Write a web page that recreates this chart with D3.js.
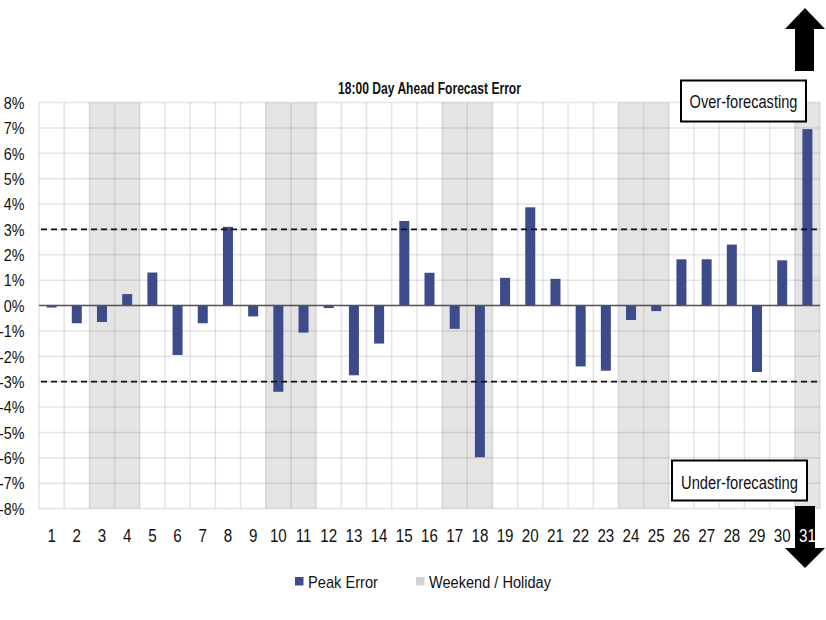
<!DOCTYPE html>
<html>
<head>
<meta charset="utf-8">
<script src="https://cdn.jsdelivr.net/npm/d3@7"></script>
<style>
  body { margin: 0; background: #fff; }
  text { font-family: "Liberation Sans", Arial, sans-serif; }
</style>
</head>
<body>
<svg id="chart" width="826" height="620"></svg>
<script>
const days = d3.range(1, 32).map(String);
const peakError = [-0.08, -0.7, -0.65, 0.45, 1.3, -1.95, -0.7, 3.1, -0.43, -3.4, -1.07,
  -0.1, -2.75, -1.5, 3.33, 1.29, -0.92, -5.98, 1.09, 3.87, 1.05, -2.4, -2.57, -0.57,
  -0.22, 1.82, 1.82, 2.4, -2.62, 1.78, 6.95];
const weekendDays = ["3", "4", "10", "11", "17", "18", "24", "25", "31"];
const yTicks = d3.range(-8, 9);
const thresholds = [3, -3];
const title = "18:00 Day Ahead Forecast Error";
const legendItems = [
  { label: "Peak Error", color: "#3d4b8b" },
  { label: "Weekend / Holiday", color: "#d3d3d3" }
];

const svg = d3.select("#chart");
const pL = 39, pR = 820, pT = 102.5, pB = 508.5;

const x = d3.scaleBand().domain(days).range([pL, pR]).paddingInner(0).paddingOuter(0);
const y = d3.scaleLinear().domain([-8, 8]).range([pB, pT]);

// helper: narrow text (condensed look) fitted to a target width
function fitText(cx, baseline, str, size, weight, targetW, anchor) {
  const g = svg.append("g");
  const t = g.append("text").attr("x", 0).attr("y", 0)
    .attr("font-size", size).attr("font-weight", weight).attr("fill", "#111")
    .attr("text-anchor", anchor).text(str);
  const w = t.node().getComputedTextLength();
  const s = targetW / w;
  g.attr("transform", `translate(${cx},${baseline}) scale(${s},1)`);
  return g;
}

// weekend shading
svg.append("g").selectAll("rect").data(weekendDays).join("rect")
  .attr("x", d => x(d)).attr("y", pT)
  .attr("width", x.bandwidth()).attr("height", pB - pT)
  .attr("fill", "#e4e4e4");

// grid
const grid = svg.append("g");
grid.selectAll("line.h").data(yTicks).join("line")
  .attr("x1", pL).attr("x2", pR)
  .attr("y1", d => y(d)).attr("y2", d => y(d))
  .attr("stroke", "#000").attr("stroke-opacity", 0.1).attr("stroke-width", 1.5);
grid.selectAll("line.v").data(days.concat(["end"])).join("line")
  .attr("x1", d => d === "end" ? pR : x(d))
  .attr("x2", d => d === "end" ? pR : x(d))
  .attr("y1", pT).attr("y2", pB)
  .attr("stroke", "#000").attr("stroke-opacity", 0.1).attr("stroke-width", 1.5);

// title
fitText(429.5, 94, title, 16.5, "bold", 183, "middle");

// y axis labels
const ySx = 0.88;
const yAxis = d3.axisLeft(y).tickValues(yTicks).tickSize(0).tickPadding(0)
  .tickFormat(d => d + "%");
const yg = svg.append("g").attr("transform", `translate(${pL},0)`).call(yAxis);
yg.select(".domain").remove();
yg.selectAll("text").attr("font-size", 16.3).attr("fill", "#111")
  .attr("x", -14.5 / ySx).attr("dy", "0.36em")
  .attr("transform", `scale(${ySx},1)`)
  .style("font-family", '"Liberation Sans", Arial, sans-serif');

// bars
const barW = 10;
svg.append("g").selectAll("rect").data(peakError).join("rect")
  .attr("x", (d, i) => x(days[i]) + x.bandwidth() / 2 - barW / 2)
  .attr("width", barW)
  .attr("y", d => y(Math.max(0, d)))
  .attr("height", d => Math.abs(y(d) - y(0)))
  .attr("fill", "#3d4b8b");

// zero line
svg.append("line").attr("x1", pL).attr("x2", pR)
  .attr("y1", y(0)).attr("y2", y(0)).attr("stroke", "#555").attr("stroke-width", 1.5);

// threshold dashed lines
svg.append("g").selectAll("line").data(thresholds).join("line")
  .attr("x1", pL + 2).attr("x2", pR - 2)
  .attr("y1", d => y(d)).attr("y2", d => y(d))
  .attr("stroke", "#111").attr("stroke-width", 1.8).attr("stroke-dasharray", "6,4");

// arrows
const up = [[805, 8], [825, 29], [814, 29], [814, 71], [795, 71], [795, 29], [785, 29]];
svg.append("polygon").attr("points", up.map(p => p.join(",")).join(" ")).attr("fill", "#000");
const down = [[795, 506], [815, 506], [815, 548], [825, 548], [805, 568], [785, 548], [795, 548]];
svg.append("polygon").attr("points", down.map(p => p.join(",")).join(" ")).attr("fill", "#000");

// x axis labels
const xSx = 0.82;
const xAxis = d3.axisBottom(x).tickSize(0).tickPadding(0);
const xg = svg.append("g").attr("transform", `translate(0,541.5)`).call(xAxis);
xg.select(".domain").remove();
xg.selectAll("text").attr("font-size", 18.5).attr("y", 0).attr("dy", 0)
  .attr("transform", `scale(${xSx},1)`)
  .attr("fill", d => d === "31" ? "#fff" : "#111")
  .style("font-family", '"Liberation Sans", Arial, sans-serif');

// annotation boxes
function box(x0, y0, w, h, label, tw, baseline) {
  svg.append("rect").attr("x", x0).attr("y", y0).attr("width", w).attr("height", h)
    .attr("fill", "#fff").attr("stroke", "#000").attr("stroke-width", 2);
  fitText(x0 + w / 2, baseline, label, 18.5, "normal", tw, "middle");
}
box(681, 80.5, 125, 41, "Over-forecasting", 108, 108);
box(672, 460.5, 135, 40, "Under-forecasting", 117, 488.5);

// legend
const legendX = [295, 416];
const legendW = [70, 122];
legendItems.forEach((it, i) => {
  svg.append("rect").attr("x", legendX[i]).attr("y", 577).attr("width", 8.5).attr("height", 8.5).attr("fill", it.color);
  fitText(legendX[i] + 13, 588, it.label, 15.8, "normal", legendW[i], "start");
});
</script>
</body>
</html>
